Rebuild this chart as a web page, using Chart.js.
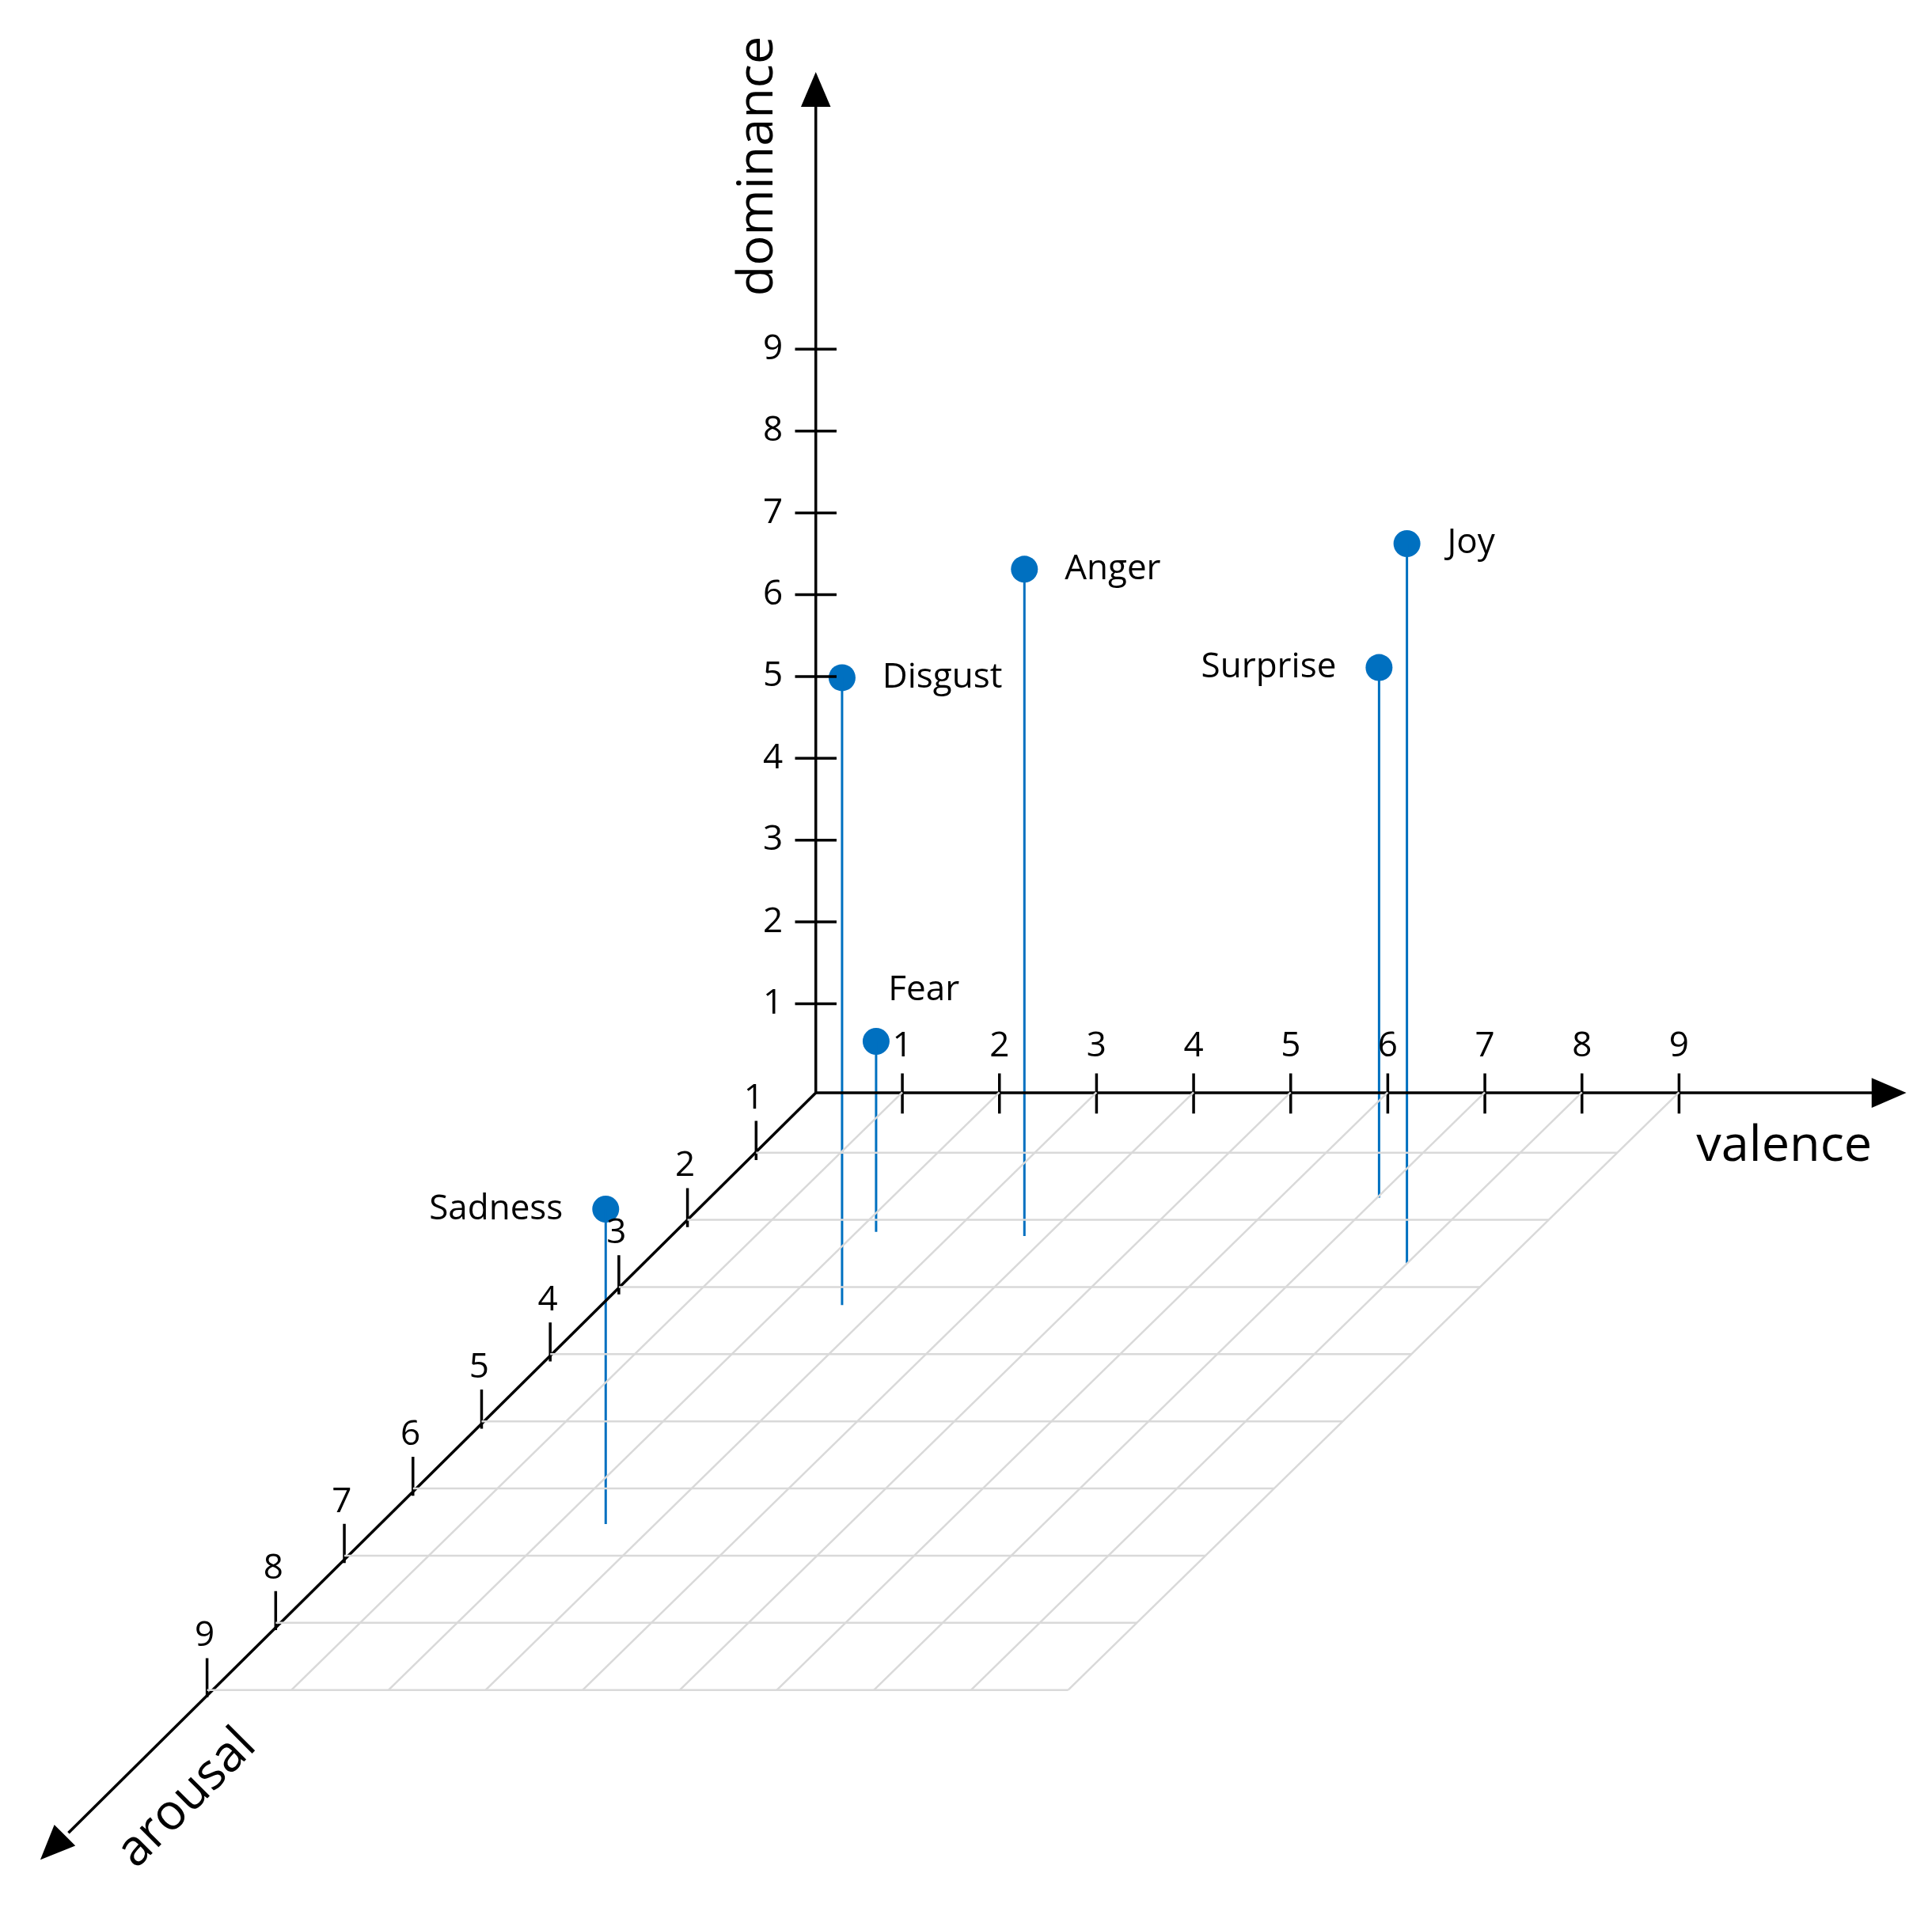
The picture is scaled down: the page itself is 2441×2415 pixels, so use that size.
<!DOCTYPE html>
<html>
<head>
<meta charset="utf-8">
<script src="https://cdn.jsdelivr.net/npm/chart.js@4.4.1/dist/chart.umd.min.js"></script>
<style>
  html, body { margin: 0; padding: 0; background: #fff; }
  canvas { display: block; }
</style>
</head>
<body>
<canvas id="vad" width="2441" height="2415" style="width:2441px;height:2415px"></canvas>
<script>
// emotions in valence / arousal / dominance space
const emotions  = ['Joy', 'Surprise', 'Anger', 'Disgust', 'Fear', 'Sadness'];
const valence   = [8.0, 7.02, 3.77, 2.62, 2.2, 2.49];
const arousal   = [2.65, 1.67, 2.24, 3.27, 2.18, 6.53];
const dominance = [8.8, 6.48, 8.15, 7.67, 2.33, 3.85];
const tickLabels = ['1', '2', '3', '4', '5', '6', '7', '8', '9'];

// label placement (left/right of the marker), in layout units
const labelSide = ['right', 'left', 'right', 'right', 'above', 'left'];

// oblique projection, layout units (canvas is 1560 x 1543 units)
const W = 1560, H = 1543, S = 2441 / W;
const X0 = 654, Y0 = 878;
function proj(v, a, d) {
  return { x: X0 + 79.5 * v - 56.2 * a, y: Y0 + 55 * a - 67 * d };
}

const BLUE = '#0070C0';
const datasets = [];
function seg(p, q, color, width) {
  datasets.push({ data: [p, q], showLine: true, borderColor: color, borderWidth: width,
                  pointRadius: 0, fill: false });
}

// floor grid
for (let i = 1; i <= 9; i++) {
  seg(proj(0.13, i, 0), proj(9, i, 0), '#d9d9d9', 2.5);
  seg(proj(i, 0.1, 0), proj(i, 9, 0), '#d9d9d9', 2.5);
}
// axes
const origin = { x: 657, y: 884 };
seg(origin, { x: 1525, y: 884 }, '#000', 3.5);
seg(origin, { x: 45, y: 1490 }, '#000', 3.5);
seg(origin, { x: 657, y: 75 }, '#000', 3.5);
// ticks
for (let i = 1; i <= 9; i++) {
  const pv = proj(i, 0.1, 0);
  seg({ x: pv.x, y: 868 }, { x: pv.x, y: 901 }, '#000', 3.5);
  const pa = proj(0.13, i, 0);
  seg({ x: pa.x, y: pa.y - 26 }, { x: pa.x, y: pa.y + 6 }, '#000', 3.5);
  const pd = Y0 - 67 * i;
  seg({ x: 640, y: pd }, { x: 674, y: pd }, '#000', 3.5);
}
// stems
emotions.forEach((e, i) => {
  seg(proj(valence[i], arousal[i], dominance[i]), proj(valence[i], arousal[i], 0), BLUE, 3);
});
// markers
datasets.push({
  data: emotions.map((e, i) => proj(valence[i], arousal[i], dominance[i])),
  pointRadius: 17, pointBackgroundColor: BLUE, pointBorderWidth: 0, showLine: false
});

const textPlugin = {
  id: 'texts',
  afterDatasetsDraw(chart) {
    const ctx = chart.ctx, sx = chart.scales.x, sy = chart.scales.y;
    const P = (x, y) => [sx.getPixelForValue(x), sy.getPixelForValue(y)];
    const font = s => (s * S).toFixed(0) + 'px "Open Sans", "Liberation Sans", sans-serif';
    ctx.save();
    ctx.fillStyle = '#000';

    // arrowheads
    const arrow = (tip, ang) => {
      const [tx, ty] = P(tip.x, tip.y), L = 28 * S, w = 12 * S;
      ctx.beginPath();
      ctx.moveTo(tx, ty);
      ctx.lineTo(tx - L * Math.cos(ang) + w * Math.sin(ang), ty - L * Math.sin(ang) - w * Math.cos(ang));
      ctx.lineTo(tx - L * Math.cos(ang) - w * Math.sin(ang), ty - L * Math.sin(ang) + w * Math.cos(ang));
      ctx.closePath();
      ctx.fill();
    };
    arrow({ x: 1550, y: 884 }, 0);
    arrow({ x: 657, y: 48 }, -Math.PI / 2);
    arrow({ x: 22, y: 1512 }, Math.PI * 3 / 4);

    // tick labels
    ctx.font = font(28);
    ctx.textBaseline = 'middle';
    ctx.textAlign = 'center';
    tickLabels.forEach((t, i) => {
      const pv = proj(i + 1, 0.1, 0);
      ctx.fillText(t, ...P(pv.x, 846));
      const pa = proj(0.13, i + 1, 0);
      ctx.fillText(t, ...P(pa.x - 2, pa.y - 44));
    });
    ctx.textAlign = 'right';
    tickLabels.forEach((t, i) => ctx.fillText(t, ...P(630, Y0 - 67 * (i + 1))));

    // axis titles
    ctx.font = font(40);
    ctx.textAlign = 'center';
    ctx.fillText('valence', ...P(1450, 928));
    let [ax, ay] = P(610, 125);
    ctx.save(); ctx.translate(ax, ay); ctx.rotate(-Math.PI / 2); ctx.fillText('dominance', 0, 0); ctx.restore();
    [ax, ay] = P(142, 1462);
    ctx.save(); ctx.translate(ax, ay); ctx.rotate(-Math.PI / 4); ctx.fillText('arousal', 0, 0); ctx.restore();

    // emotion labels
    ctx.font = font(28);
    emotions.forEach((e, i) => {
      const p = proj(valence[i], arousal[i], dominance[i]);
      if (labelSide[i] === 'right') { ctx.textAlign = 'left'; ctx.fillText(e, ...P(p.x + 33, p.y)); }
      else if (labelSide[i] === 'left') { ctx.textAlign = 'right'; ctx.fillText(e, ...P(p.x - 35, p.y)); }
      else { ctx.textAlign = 'left'; ctx.fillText(e, ...P(p.x + 10, p.y - 42)); }
    });
    ctx.restore();
  }
};

new Chart(document.getElementById('vad'), {
  type: 'scatter',
  data: { datasets },
  options: {
    responsive: false,
    devicePixelRatio: 1,
    animation: false,
    layout: { padding: 0 },
    plugins: { legend: { display: false }, tooltip: { enabled: false } },
    scales: {
      x: { type: 'linear', min: 0, max: W, display: false },
      y: { type: 'linear', min: 0, max: H, reverse: true, display: false }
    }
  },
  plugins: [textPlugin]
});
</script>
</body>
</html>
